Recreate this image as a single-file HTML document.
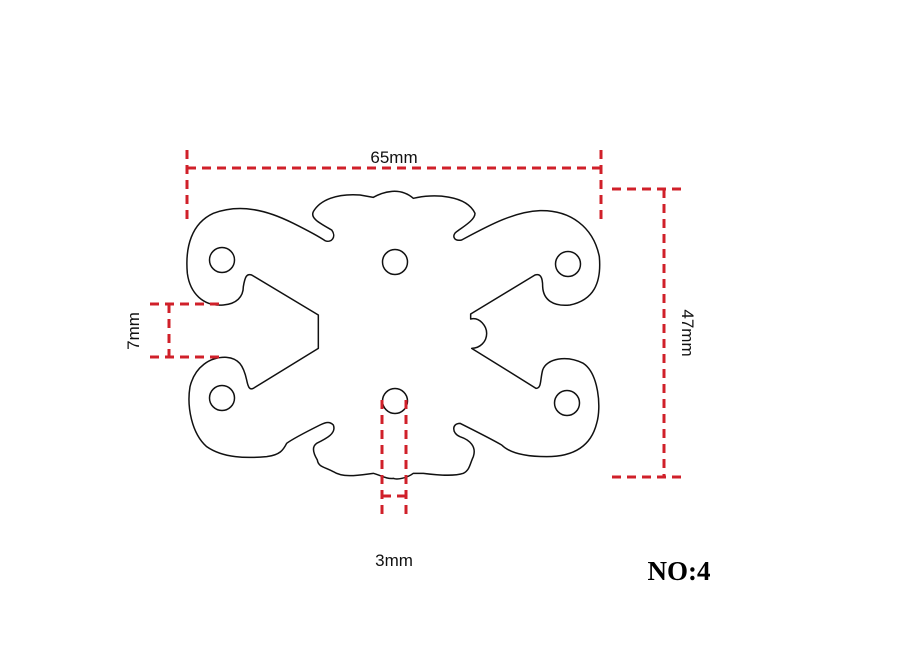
<!DOCTYPE html>
<html><head><meta charset="utf-8"><style>
html,body{margin:0;padding:0;background:#fff;}
svg{display:block;}
</style></head><body>
<svg width="900" height="667" viewBox="0 0 900 667" xmlns="http://www.w3.org/2000/svg">
<g transform="translate(180,180) scale(0.33333)" fill="none" stroke="#111" stroke-width="4.5" stroke-linejoin="round">
<path d="M455,150 C420,130 390,115 400,95 C420,60 470,40 540,45 L580,52 C610,35 660,20 700,55 C760,40 860,45 885,100 C885,120 850,140 830,155 C815,165 820,185 845,180 C920,140 1000,95 1080,92 C1170,90 1240,140 1258,230 C1265,310 1240,360 1170,375 C1120,380 1090,360 1088,320 C1088,290 1080,280 1065,285 L872,402 L872,417 C900,410 920,440 920,460 C920,485 900,505 875,505 L1068,625 C1085,625 1080,600 1088,570 C1100,535 1160,525 1210,550 C1255,580 1265,680 1250,730 C1235,790 1190,830 1100,830 C1040,830 990,820 965,795 C930,775 880,750 840,730 C815,730 815,760 840,770 C870,780 890,800 880,830 C870,850 870,870 850,880 C820,890 770,885 730,880 L700,880 C680,895 650,900 640,895 C620,898 600,885 580,880 C540,885 490,895 460,875 C430,860 415,860 412,840 C400,820 395,800 410,790 C440,775 470,760 460,735 C450,725 440,725 420,735 C380,755 340,775 320,790 C310,810 300,825 260,830 C200,835 130,835 80,800 C35,760 20,680 30,620 C45,560 90,530 140,532 C175,535 190,555 200,600 C205,625 210,630 220,625 L415,505 L415,405 L215,285 C200,280 195,290 190,320 C190,350 170,372 130,375 C70,380 30,340 22,280 C15,200 35,130 100,100 C180,70 260,90 340,130 C380,150 410,165 435,182 C455,190 470,170 455,150 Z"/>
</g>
<g fill="none" stroke="#111" stroke-width="1.5">
<circle cx="222" cy="260" r="12.5"/>
<circle cx="395" cy="262" r="12.5"/>
<circle cx="568" cy="264" r="12.5"/>
<circle cx="222" cy="398" r="12.5"/>
<circle cx="395" cy="401" r="12.5"/>
<circle cx="567" cy="403" r="12.5"/>
</g>
<g stroke="#d0202a" stroke-width="3" stroke-dasharray="9,6" fill="none">
<line x1="187" y1="168" x2="601" y2="168"/>
<line x1="187" y1="150" x2="187" y2="222"/>
<line x1="601" y1="150" x2="601" y2="222"/>
<line x1="664" y1="189" x2="664" y2="477"/>
<line x1="612" y1="189" x2="686" y2="189"/>
<line x1="612" y1="477" x2="686" y2="477"/>
<line x1="169" y1="304" x2="169" y2="357"/>
<line x1="150" y1="304" x2="225" y2="304"/>
<line x1="150" y1="357" x2="225" y2="357"/>
<line x1="382" y1="400" x2="382" y2="518"/>
<line x1="406" y1="400" x2="406" y2="518"/>
<line x1="382" y1="496" x2="406" y2="496"/>
</g>
<g font-family="Liberation Sans, sans-serif" font-size="17" fill="#111" text-anchor="middle">
<text x="394" y="163">65mm</text>
<text x="394" y="566">3mm</text>
<text transform="translate(682,333) rotate(90)">47mm</text>
<text transform="translate(139,331) rotate(-90)">7mm</text>
</g>
<text x="679" y="580" font-family="Liberation Serif, serif" font-weight="bold" font-size="27" fill="#000" text-anchor="middle">NO:4</text>
</svg>
</body></html>
